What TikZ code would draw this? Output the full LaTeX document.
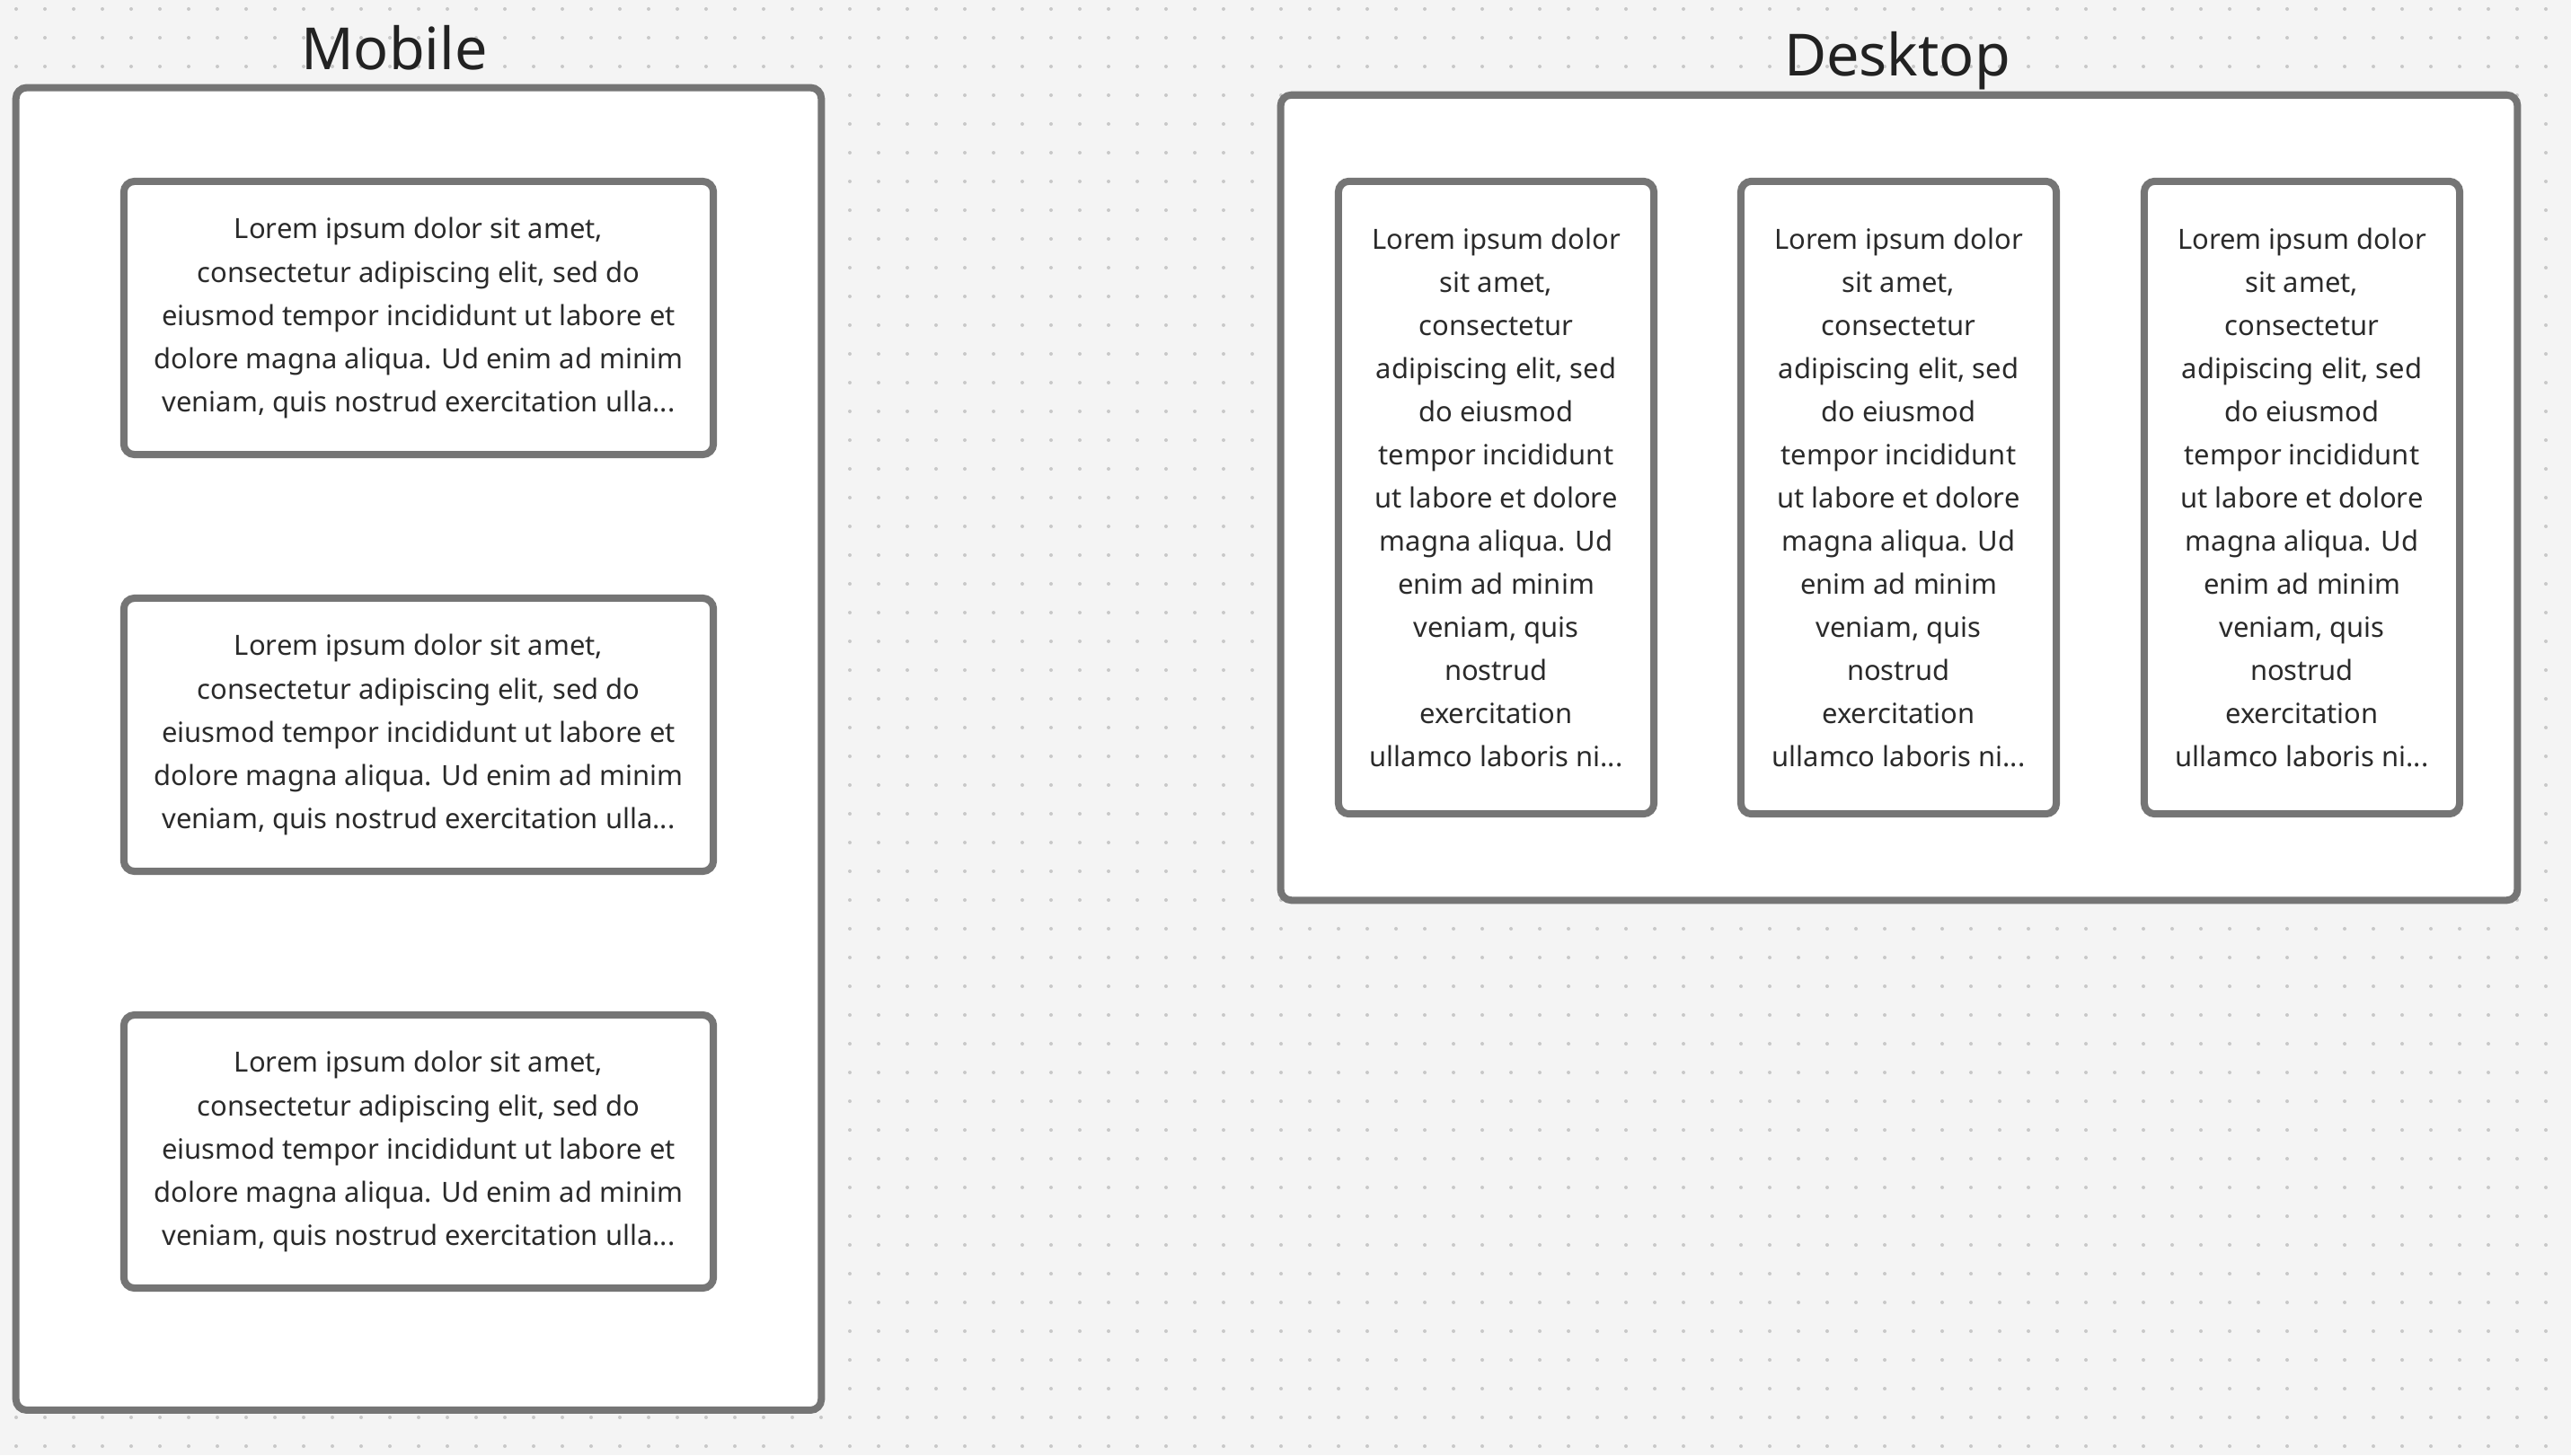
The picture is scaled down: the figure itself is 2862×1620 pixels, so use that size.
\documentclass[tikz,border=0pt]{standalone}
\usepackage{fontspec}
\setmainfont{Noto Sans}
\usetikzlibrary{calc}
\definecolor{canvas}{HTML}{F4F4F4}
\definecolor{griddot}{HTML}{C8C8C8}
\definecolor{framegray}{HTML}{757575}
\definecolor{ink}{HTML}{2A2A2A}
\newcommand{\bodyfont}{\fontsize{8.8pt}{13.66pt}\selectfont}
\newcommand{\mobiletext}{Lorem ipsum dolor sit amet,\\consectetur adipiscing elit, sed do\\eiusmod tempor incididunt ut labore et\\dolore magna aliqua. Ud enim ad minim\\veniam, quis nostrud exercitation ulla...}
\newcommand{\desktoptext}{Lorem ipsum dolor\\sit amet,\\consectetur\\adipiscing elit, sed\\do eiusmod\\tempor incididunt\\ut labore et dolore\\magna aliqua. Ud\\enim ad minim\\veniam, quis\\nostrud\\exercitation\\ullamco laboris ni...}
\tikzset{
  screen/.style={draw=framegray,line width=2.28pt,rounded corners=3.4pt,fill=white},
  card/.style={screen,align=center,text=ink,font=\bodyfont,inner sep=0pt},
  title/.style={text=ink!80!black,font=\fontsize{18.4pt}{22pt}\selectfont,inner sep=0pt}
}
\begin{document}
\begin{tikzpicture}[x=0.01cm,y=-0.01cm]
%canvas and dot grid
\fill[canvas](0,0)rectangle(2862,1620);
\useasboundingbox(0,0)rectangle(2862,1620);
\foreach \i in {18,50,...,2862}{
  \foreach \j in {10,42,...,1620}{
    \fill[griddot](\i,\j)circle(2);
  }
}
%mobile frame
\node[screen,minimum width=8.96cm,minimum height=14.715cm](mobile)at(466,833.75){};
\node[title,anchor=base](mobiletitle)at(439,77){Mobile};
\node[card,minimum width=6.56cm,minimum height=3.04cm](mcardA)at(466,354){\mobiletext};
\node[card,minimum width=6.56cm,minimum height=3.04cm](mcardB)at(466,818){\mobiletext};
\node[card,minimum width=6.56cm,minimum height=3.04cm](mcardC)at(466,1282){\mobiletext};
%desktop frame
\node[screen,minimum width=13.76cm,minimum height=8.96cm](desktop)at(2114,554){};
\node[title,anchor=base](desktoptitle)at(2112,84){Desktop};
\node[card,minimum width=3.51cm,minimum height=7.04cm](dcardA)at(1665.5,554){\desktoptext};
\node[card,minimum width=3.51cm,minimum height=7.04cm](dcardB)at(2113.5,554){\desktoptext};
\node[card,minimum width=3.51cm,minimum height=7.04cm](dcardC)at(2562.5,554){\desktoptext};
\end{tikzpicture}
\end{document}
